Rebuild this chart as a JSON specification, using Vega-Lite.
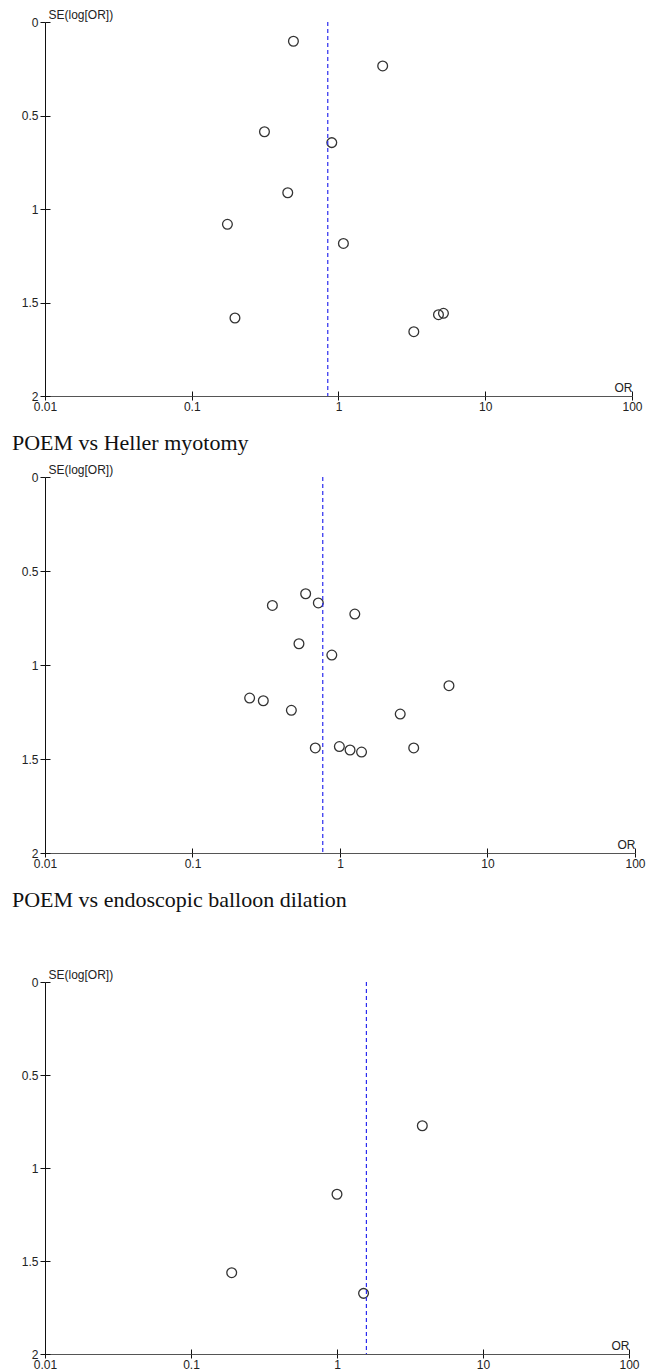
{
  "$schema": "https://vega.github.io/schema/vega-lite/v6.json",
  "padding": {"left": 12, "top": 8, "right": 0, "bottom": 0},
  "background": "white",
  "spacing": 20,
  "config": {
    "view": {"stroke": null},
    "axis": {
      "grid": false,
      "labelFont": "Liberation Sans",
      "labelFontSize": 12,
      "labelColor": "#222",
      "titleFont": "Liberation Sans",
      "titleFontSize": 12,
      "titleFontWeight": "normal",
      "titleColor": "#222",
      "tickColor": "#111",
      "domainColor": "#111",
      "labelFlush": false,
      "labelOverlap": false,
      "labelBound": false
    },
    "title": {
      "font": "Liberation Serif",
      "fontSize": 22,
      "fontWeight": "normal",
      "color": "#111",
      "anchor": "start",
      "frame": "group",
      "dx": -33
    }
  },
  "datasets": {
    "studies": [
      {"panel": "p1", "or": 0.493, "se": 0.103},
      {"panel": "p1", "or": 2.0, "se": 0.235},
      {"panel": "p1", "or": 0.313, "se": 0.587},
      {"panel": "p1", "or": 0.9, "se": 0.645},
      {"panel": "p1", "or": 0.451, "se": 0.913},
      {"panel": "p1", "or": 0.175, "se": 1.082},
      {"panel": "p1", "or": 1.08, "se": 1.184},
      {"panel": "p1", "or": 0.197, "se": 1.583},
      {"panel": "p1", "or": 4.8, "se": 1.565},
      {"panel": "p1", "or": 5.19, "se": 1.558},
      {"panel": "p1", "or": 3.26, "se": 1.656},
      {"panel": "p2", "or": 0.348, "se": 0.683},
      {"panel": "p2", "or": 0.585, "se": 0.621},
      {"panel": "p2", "or": 0.713, "se": 0.67},
      {"panel": "p2", "or": 0.527, "se": 0.887},
      {"panel": "p2", "or": 1.26, "se": 0.729},
      {"panel": "p2", "or": 0.88, "se": 0.947},
      {"panel": "p2", "or": 0.244, "se": 1.176},
      {"panel": "p2", "or": 0.302, "se": 1.19},
      {"panel": "p2", "or": 0.468, "se": 1.241},
      {"panel": "p2", "or": 0.68, "se": 1.441},
      {"panel": "p2", "or": 5.48, "se": 1.11},
      {"panel": "p2", "or": 2.56, "se": 1.261},
      {"panel": "p2", "or": 0.99, "se": 1.434},
      {"panel": "p2", "or": 1.17, "se": 1.452},
      {"panel": "p2", "or": 1.4, "se": 1.463},
      {"panel": "p2", "or": 3.16, "se": 1.441},
      {"panel": "p3", "or": 3.84, "se": 0.773},
      {"panel": "p3", "or": 1.0, "se": 1.141},
      {"panel": "p3", "or": 1.52, "se": 1.674},
      {"panel": "p3", "or": 0.19, "se": 1.563}
    ],
    "pooled": [
      {"panel": "p1", "or": 0.845},
      {"panel": "p2", "or": 0.764},
      {"panel": "p3", "or": 1.59}
    ]
  },
  "vconcat": [
    {
      "width": 587,
      "height": 374,
      "layer": [
        {
          "data": {"name": "studies"},
          "transform": [{"filter": "datum.panel === 'p1'"}],
          "mark": {"type": "point", "shape": "circle", "filled": false, "stroke": "#333", "strokeWidth": 1.3, "size": 95, "opacity": 1},
          "encoding": {
            "x": {"field": "or", "type": "quantitative", "scale": {"type": "log", "domain": [0.01, 100], "nice": false},
              "axis": {"orient": "bottom", "values": [0.01, 0.1, 1, 10, 100], "format": "~g", "tickSize": 4, "labelPadding": 1, "title": "OR", "titleAlign": "right", "titleAnchor": null, "titleX": 587, "titleY": -5, "titleBaseline": "alphabetic", "domainColor": "#555"}},
            "y": {"field": "se", "type": "quantitative", "scale": {"domain": [0, 2], "reverse": true, "nice": false, "zero": false},
              "axis": {"orient": "left", "values": [0, 0.5, 1, 1.5, 2], "format": "~g", "tickSize": 5, "labelPadding": 2, "title": "SE(log[OR])", "titleAngle": 0, "titleAlign": "left", "titleAnchor": null, "titleBaseline": "bottom", "titleX": 3, "titleY": -1}}
          }
        },
        {
          "data": {"name": "pooled"},
          "transform": [{"filter": "datum.panel === 'p1'"}],
          "mark": {"type": "rule", "color": "#2b2bef", "strokeDash": [4, 3], "strokeWidth": 1.2},
          "encoding": {
            "x": {"field": "or", "type": "quantitative", "axis": {"orient": "bottom", "values": [0.01, 0.1, 1, 10, 100], "tickSize": -5, "labels": false, "domain": false, "title": null}},
            "y": {"datum": 0, "type": "quantitative", "axis": {"orient": "left", "values": [0, 0.5, 1, 1.5, 2], "tickSize": -5, "labels": false, "domain": false, "title": null}},
            "y2": {"datum": 2}
          }
        }
      ],
      "resolve": {"axis": {"x": "independent", "y": "independent"}}
    },
    {
      "width": 590,
      "height": 376,
      "title": {"text": "POEM vs Heller myotomy", "offset": 8},
      "layer": [
        {
          "data": {"name": "studies"},
          "transform": [{"filter": "datum.panel === 'p2'"}],
          "mark": {"type": "point", "shape": "circle", "filled": false, "stroke": "#333", "strokeWidth": 1.3, "size": 95, "opacity": 1},
          "encoding": {
            "x": {"field": "or", "type": "quantitative", "scale": {"type": "log", "domain": [0.01, 100], "nice": false},
              "axis": {"orient": "bottom", "values": [0.01, 0.1, 1, 10, 100], "format": "~g", "tickSize": 4, "labelPadding": 1, "title": "OR", "titleAlign": "right", "titleAnchor": null, "titleX": 590, "titleY": -5, "titleBaseline": "alphabetic", "domainColor": "#555"}},
            "y": {"field": "se", "type": "quantitative", "scale": {"domain": [0, 2], "reverse": true, "nice": false, "zero": false},
              "axis": {"orient": "left", "values": [0, 0.5, 1, 1.5, 2], "format": "~g", "tickSize": 5, "labelPadding": 2, "title": "SE(log[OR])", "titleAngle": 0, "titleAlign": "left", "titleAnchor": null, "titleBaseline": "bottom", "titleX": 3, "titleY": -1}}
          }
        },
        {
          "data": {"name": "pooled"},
          "transform": [{"filter": "datum.panel === 'p2'"}],
          "mark": {"type": "rule", "color": "#2b2bef", "strokeDash": [4, 3], "strokeWidth": 1.2},
          "encoding": {
            "x": {"field": "or", "type": "quantitative", "axis": {"orient": "bottom", "values": [0.01, 0.1, 1, 10, 100], "tickSize": -5, "labels": false, "domain": false, "title": null}},
            "y": {"datum": 0, "type": "quantitative", "axis": {"orient": "left", "values": [0, 0.5, 1, 1.5, 2], "tickSize": -5, "labels": false, "domain": false, "title": null}},
            "y2": {"datum": 2}
          }
        }
      ],
      "resolve": {"axis": {"x": "independent", "y": "independent"}}
    },
    {
      "width": 584,
      "height": 372,
      "title": {"text": "POEM vs endoscopic balloon dilation", "offset": 56},
      "layer": [
        {
          "data": {"name": "studies"},
          "transform": [{"filter": "datum.panel === 'p3'"}],
          "mark": {"type": "point", "shape": "circle", "filled": false, "stroke": "#333", "strokeWidth": 1.3, "size": 95, "opacity": 1},
          "encoding": {
            "x": {"field": "or", "type": "quantitative", "scale": {"type": "log", "domain": [0.01, 100], "nice": false},
              "axis": {"orient": "bottom", "values": [0.01, 0.1, 1, 10, 100], "format": "~g", "tickSize": 4, "labelPadding": 1, "title": "OR", "titleAlign": "right", "titleAnchor": null, "titleX": 584, "titleY": -5, "titleBaseline": "alphabetic", "domainColor": "#555"}},
            "y": {"field": "se", "type": "quantitative", "scale": {"domain": [0, 2], "reverse": true, "nice": false, "zero": false},
              "axis": {"orient": "left", "values": [0, 0.5, 1, 1.5, 2], "format": "~g", "tickSize": 5, "labelPadding": 2, "title": "SE(log[OR])", "titleAngle": 0, "titleAlign": "left", "titleAnchor": null, "titleBaseline": "bottom", "titleX": 3, "titleY": -1}}
          }
        },
        {
          "data": {"name": "pooled"},
          "transform": [{"filter": "datum.panel === 'p3'"}],
          "mark": {"type": "rule", "color": "#2b2bef", "strokeDash": [4, 3], "strokeWidth": 1.2},
          "encoding": {
            "x": {"field": "or", "type": "quantitative", "axis": {"orient": "bottom", "values": [0.01, 0.1, 1, 10, 100], "tickSize": -5, "labels": false, "domain": false, "title": null}},
            "y": {"datum": 0, "type": "quantitative", "axis": {"orient": "left", "values": [0, 0.5, 1, 1.5, 2], "tickSize": -5, "labels": false, "domain": false, "title": null}},
            "y2": {"datum": 2}
          }
        }
      ],
      "resolve": {"axis": {"x": "independent", "y": "independent"}}
    }
  ]
}
